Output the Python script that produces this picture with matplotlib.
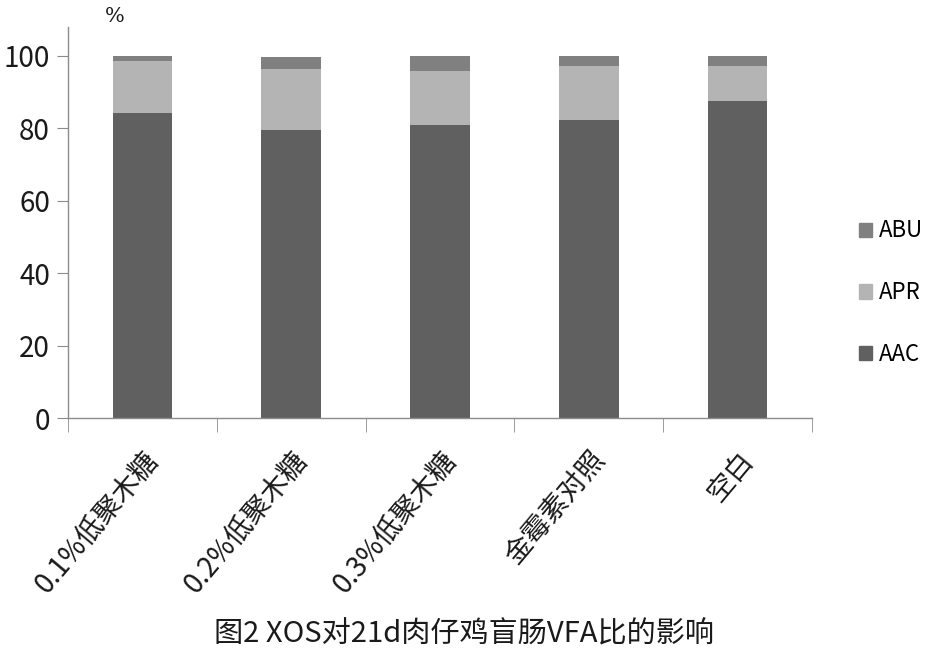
import matplotlib.pyplot as plt
import numpy as np
from matplotlib.patches import Patch

plt.rcParams['font.family'] = ['Noto Sans CJK SC', 'DejaVu Sans']

# ---------------------------------------------------------------------------
# Data (% of total VFA)
# ---------------------------------------------------------------------------
categories = ['0.1%低聚木糖', '0.2%低聚木糖', '0.3%低聚木糖', '金霉素对照', '空白']
aac = [84.2, 79.5, 80.8, 82.4, 87.6]
apr = [14.4, 16.8, 15.0, 14.7, 9.5]
abu = [1.4, 3.4, 4.2, 2.9, 2.9]
yticks = [0, 20, 40, 60, 80, 100]

# ---------------------------------------------------------------------------
# Styling
# ---------------------------------------------------------------------------
AAC_COLOR = '#606060'
APR_COLOR = '#b4b4b4'
ABU_COLOR = '#808080'
AXIS_COLOR = '#8c8c8c'
TEXT_COLOR = '#1a1a1a'

fig = plt.figure(figsize=(9.29, 6.58), dpi=100)
ax = fig.add_axes([0.0732, 0.3647, 0.8008, 0.5943])

x = np.arange(len(categories))
w = 0.40
aac_a = np.array(aac)
apr_a = np.array(apr)
abu_a = np.array(abu)
ax.bar(x, aac_a, w, color=AAC_COLOR, label='AAC')
ax.bar(x, apr_a, w, bottom=aac_a, color=APR_COLOR, label='APR')
ax.bar(x, abu_a, w, bottom=aac_a + apr_a, color=ABU_COLOR, label='ABU')

ax.set_xlim(-0.5, len(categories) - 0.5)
ax.set_ylim(0, 108)

for side in ('top', 'right'):
    ax.spines[side].set_visible(False)
for side in ('left', 'bottom'):
    ax.spines[side].set_color(AXIS_COLOR)
    ax.spines[side].set_linewidth(1.0)

# y ticks
ax.set_yticks(yticks)
ax.set_yticklabels([str(v) for v in yticks], fontsize=20, color=TEXT_COLOR)
ax.tick_params(axis='y', direction='out', length=8, color=AXIS_COLOR, pad=5)

# x ticks: labels at centres, marks at category boundaries
ax.set_xticks(x)
ax.set_xticklabels(categories, rotation=50, ha='right', rotation_mode='anchor',
                   fontsize=20, color=TEXT_COLOR)
ax.tick_params(axis='x', which='major', length=0, pad=20)
ax.set_xticks(np.arange(-0.5, len(categories), 1.0), minor=True)
ax.tick_params(axis='x', which='minor', direction='out', length=10,
               color=AXIS_COLOR)

# unit label
fig.text(0.124, 0.975, '%', fontsize=15, family='DejaVu Serif',
         ha='center', va='center', color=TEXT_COLOR)

# legend (ABU on top)
handles = [Patch(color=ABU_COLOR, label='ABU'),
           Patch(color=APR_COLOR, label='APR'),
           Patch(color=AAC_COLOR, label='AAC')]
fig.legend(handles=handles, loc='center left', bbox_to_anchor=(0.903, 0.555),
           frameon=False, fontsize=16, handlelength=0.6, handleheight=0.6,
           handletextpad=0.3, labelspacing=1.75)

# caption
fig.text(0.5, 0.035, '图2 XOS对21d肉仔鸡盲肠VFA比的影响', fontsize=21,
         ha='center', va='center', color=TEXT_COLOR)

fig.savefig('out.png', dpi=100)
